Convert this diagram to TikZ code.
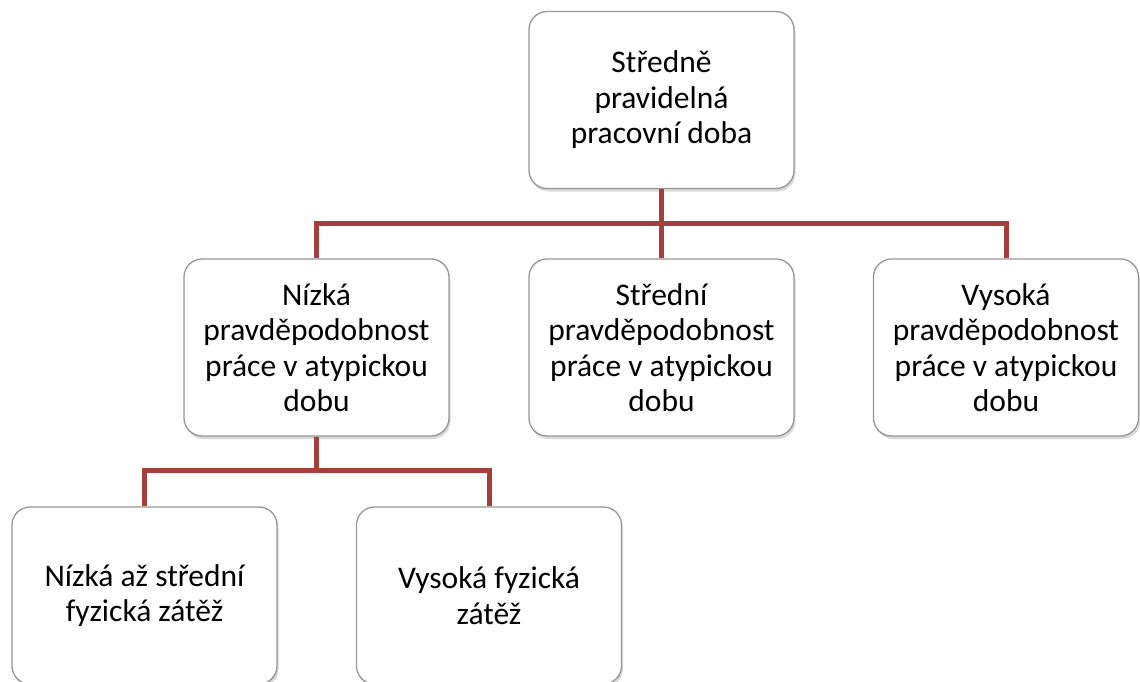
\documentclass[tikz,border=0pt]{standalone}
\usepackage{fontspec}
\setmainfont{Carlito}
\usetikzlibrary{shadows}
\definecolor{conncol}{RGB}{166,62,62}
\definecolor{boxline}{RGB}{150,150,150}
\tikzset{
  card/.style={draw=boxline, line width=1.3pt, fill=white, rounded corners=18pt,
    minimum width=265pt, minimum height=177pt, text width=255pt, align=flush center,
    inner sep=0pt, font=\fontsize{31.5}{35.5}\selectfont,
    drop shadow={shadow xshift=1.5pt, shadow yshift=-3pt, opacity=0.25, fill=black!60}},
  conn/.style={draw=conncol, line width=5pt}
}
\begin{document}
\begin{tikzpicture}[x=1pt,y=-1pt]
\useasboundingbox (0,0) rectangle (1140,682);
\coordinate (bar1) at (0,223);
\coordinate (bar2) at (0,470);
\path (661.5,100) coordinate (ptop) (316.5,347.5) coordinate (pml) (661.5,347.5) coordinate (pmm)
      (1006,347.5) coordinate (pmr) (144.5,595.5) coordinate (pbl) (489,595.5) coordinate (pbr);
\node[card] (top) at (ptop) {Středně\\pravidelná\\pracovní doba};
\node[card] (ml) at (pml) {Nízká\\pravděpodobnost\\práce v atypickou\\dobu};
\node[card] (mm) at (pmm) {Střední\\pravděpodobnost\\práce v atypickou\\dobu};
\node[card] (mr) at (pmr) {Vysoká\\pravděpodobnost\\práce v atypickou\\dobu};
\node[card] (bl) at (pbl) {Nízká až střední\\fyzická zátěž};
\node[card] (br) at (pbr) {Vysoká fyzická\\zátěž};
\draw[conn] (top.south) -- (mm.north);
\draw[conn] (ml.north) |- (mr.north |- bar1) -- (mr.north);
\draw[conn] (ml.south) -- (ml.south |- bar2);
\draw[conn] (bl.north) |- (br.north |- bar2) -- (br.north);
\end{tikzpicture}
\end{document}
